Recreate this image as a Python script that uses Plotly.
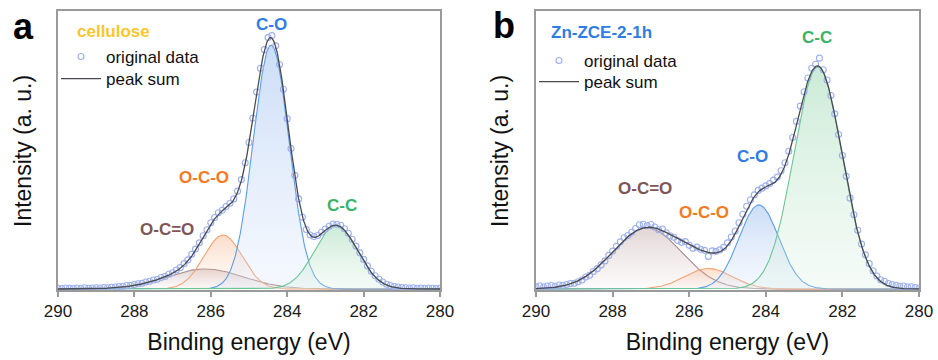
import numpy as np
import plotly.graph_objects as go

# ---------------- data ----------------
# C 1s scans: binding energy grid (eV) and measured intensity (a.u.)
E_START = 290.0
E_STEP = 0.1

cellulose_counts = [
    0.3, 0.2, 0.4, 0.3, 0.2, 0.4, 0.3, 0.5, 0.3, 0.4,
    0.5, 0.4, 0.6, 0.5, 0.7, 0.8, 1.0, 1.1, 1.4, 1.5,
    1.8, 2.1, 2.3, 2.8, 3.1, 3.6, 3.9, 4.6, 5.0, 5.9,
    6.5, 7.6, 8.5, 10.1, 11.6, 13.8, 15.9, 18.4, 21.2, 23.6,
    26.4, 28.5, 30.4, 31.4, 32.9, 34.2, 35.9, 39.0, 43.6, 50.3,
    58.4, 68.1, 78.5, 88.0, 95.4, 100.2, 101.0, 96.9, 89.5, 79.6,
    67.9, 56.0, 45.3, 35.9, 28.6, 23.7, 21.5, 20.9, 21.3, 22.6,
    23.9, 25.0, 25.9, 25.8, 25.4, 24.0, 22.2, 19.8, 17.1, 14.4,
    11.8, 9.2, 7.1, 5.3, 3.9, 2.8, 1.9, 1.4, 1.0, 0.8,
    0.6, 0.5, 0.4, 0.5, 0.3, 0.4, 0.3, 0.4, 0.3, 0.2,
    0.3,
]

zce_counts = [
    0.9, 1.3, 0.8, 1.2, 1.4, 1.1, 1.6, 1.5, 1.8, 2.2,
    2.3, 2.9, 3.6, 4.8, 5.5, 7.0, 8.1, 9.6, 11.2, 13.4,
    15.1, 17.0, 18.8, 20.4, 21.3, 22.6, 24.1, 25.6, 25.8, 25.2,
    25.7, 24.7, 23.6, 23.9, 22.4, 21.2, 20.6, 19.3, 18.6, 18.9,
    17.4, 16.2, 16.7, 15.8, 15.4, 13.0, 15.2, 15.0, 15.6, 16.6,
    18.4, 20.7, 23.1, 26.4, 29.8, 33.0, 35.6, 37.5, 39.3, 40.2,
    41.1, 42.0, 43.4, 44.6, 47.1, 50.3, 54.9, 60.4, 66.8, 72.9,
    78.6, 84.1, 88.0, 89.6, 92.0, 87.4, 83.3, 77.1, 69.8, 61.6,
    53.2, 44.9, 36.2, 29.6, 23.4, 17.9, 13.6, 10.1, 7.3, 5.2,
    3.7, 3.1, 2.2, 1.8, 1.5, 1.1, 1.2, 0.8, 0.9, 0.6,
    0.4,
]

# fitted Gaussian components: name, centre (eV), height, sigma (eV)
cellulose_peaks = ["O-C=O", "O-C-O", "C-O", "C-C"]
cellulose_centres = [286.15, 285.68, 284.42, 282.72]
cellulose_heights = [8.0, 21.5, 97.2, 25.3]
cellulose_sigmas = [1.0, 0.50, 0.47, 0.56]

zce_peaks = ["O-C=O", "O-C-O", "C-O", "C-C"]
zce_centres = [287.10, 285.50, 284.18, 282.64]
zce_heights = [24.3, 8.2, 33.5, 88.5]
zce_sigmas = [0.90, 0.62, 0.52, 0.63]

x_ticks = [290, 288, 286, 284, 282, 280]

# ---------------- styling ----------------
W, H = 938, 360
FONT = "Arial, Liberation Sans, sans-serif"
FRAME = "#9a9a9a"
SUM_COLOR = "#4a4a52"
DATA_COLOR = "#9cb0ee"

peak_style = {
    "O-C=O": dict(line="#a68a8a", text="#7e5656",
                  fill=["rgba(200,175,175,0.06)", "rgba(165,125,125,0.32)"]),
    "O-C-O": dict(line="#f2a271", text="#f27a22",
                  fill=["rgba(250,210,185,0.08)", "rgba(245,165,115,0.38)"]),
    "C-O": dict(line="#5c9de8", text="#2f7de2",
                fill=["rgba(215,228,250,0.25)", "rgba(140,180,238,0.45)"]),
    "C-C": dict(line="#6cc594", text="#38b36a",
                fill=["rgba(215,240,222,0.25)", "rgba(140,210,165,0.45)"]),
}

e_fine = np.linspace(E_START, 280.0, 601)


def gaussian(e, c, h, s):
    return h * np.exp(-((e - c) ** 2) / (2 * s * s))


def px_x(p):
    return p / W


def px_y(p):
    return 1 - p / H


fig = go.Figure()


def add_panel(xa, ya, counts, names, centres, heights, sigmas, leg_data, leg_sum):
    energies = E_START - E_STEP * np.arange(len(counts))
    total = np.zeros_like(e_fine)
    for n, c, h, s in zip(names, centres, heights, sigmas):
        comp = gaussian(e_fine, c, h, s)
        total += comp
        st = peak_style[n]
        fig.add_trace(go.Scatter(
            x=e_fine, y=comp, mode="lines", name=n, showlegend=False,
            line=dict(color=st["line"], width=1.1),
            fill="tozeroy",
            fillgradient=dict(type="vertical",
                              colorscale=[[0, st["fill"][0]], [1, st["fill"][1]]]),
            xaxis=xa, yaxis=ya, hoverinfo="skip"))
    fig.add_trace(go.Scatter(
        x=energies, y=counts, mode="markers", name="original data",
        marker=dict(symbol="circle-open", size=6, color=DATA_COLOR,
                    line=dict(width=1.1, color=DATA_COLOR)),
        xaxis=xa, yaxis=ya, legend=leg_data))
    fig.add_trace(go.Scatter(
        x=e_fine, y=total, mode="lines", name="peak sum",
        line=dict(color=SUM_COLOR, width=1.3),
        xaxis=xa, yaxis=ya, legend=leg_sum))


add_panel("x", "y", cellulose_counts, cellulose_peaks, cellulose_centres,
          cellulose_heights, cellulose_sigmas, "legend", "legend3")
add_panel("x2", "y2", zce_counts, zce_peaks, zce_centres,
          zce_heights, zce_sigmas, "legend2", "legend4")

# component labels (placed in data coordinates of each panel)
labels_a = [("C-O", 284.40, 105.6), ("O-C-O", 286.18, 44.6),
            ("O-C=O", 287.15, 23.9), ("C-C", 282.57, 33.1)]
labels_b = [("C-C", 282.66, 100.4), ("C-O", 284.36, 53.0),
            ("O-C-O", 285.61, 30.3), ("O-C=O", 287.15, 40.2)]

annotations = []
for (txt, ex, iy), xr, yr in [(l, "x", "y") for l in labels_a] + [(l, "x2", "y2") for l in labels_b]:
    annotations.append(dict(text=f"<b>{txt}</b>", x=ex, y=iy, xref=xr, yref=yr,
                            xanchor="center", yanchor="middle", showarrow=False,
                            font=dict(family=FONT, size=17,
                                      color=peak_style[txt]["text"])))

annotations += [
    dict(text="<b>cellulose</b>", x=289.55, y=102.8, xref="x", yref="y",
         xanchor="left", yanchor="middle", showarrow=False,
         font=dict(family=FONT, size=17, color="#fbc62c")),
    dict(text="<b>Zn-ZCE-2-1h</b>", x=289.66, y=102.4, xref="x2", yref="y2",
         xanchor="left", yanchor="middle", showarrow=False,
         font=dict(family=FONT, size=17, color="#2f7de2")),
    dict(text="<b>a</b>", x=px_x(23), y=px_y(27), xref="paper", yref="paper",
         xanchor="center", yanchor="middle", showarrow=False,
         font=dict(family=FONT, size=36, color="black")),
    dict(text="<b>b</b>", x=px_x(504), y=px_y(26), xref="paper", yref="paper",
         xanchor="center", yanchor="middle", showarrow=False,
         font=dict(family=FONT, size=36, color="black")),
    dict(text="Intensity (a. u.)", x=px_x(23), y=px_y(151), xref="paper",
         yref="paper", textangle=-90, xanchor="center", yanchor="middle",
         showarrow=False, font=dict(family=FONT, size=23, color="#111")),
    dict(text="Intensity (a. u.)", x=px_x(500), y=px_y(151), xref="paper",
         yref="paper", textangle=-90, xanchor="center", yanchor="middle",
         showarrow=False, font=dict(family=FONT, size=23, color="#111")),
]

xaxis_common = dict(
    range=[290, 280], tickvals=x_ticks, ticktext=[str(t) for t in x_ticks],
    ticks="outside", ticklen=5, tickwidth=1.5, tickcolor=FRAME,
    showline=True, linecolor=FRAME, linewidth=1.5, mirror=True,
    showgrid=False, zeroline=False, automargin=False,
    tickfont=dict(family=FONT, size=17, color="#1a1a1a"),
    title=dict(text="Binding energy (eV)", font=dict(family=FONT, size=23, color="#111"),
               standoff=14),
)
yaxis_common = dict(
    range=[-0.4, 110.8], showticklabels=False, ticks="",
    showline=True, linecolor=FRAME, linewidth=1.5, mirror=True,
    showgrid=False, zeroline=False, automargin=False,
)

y_dom = [px_y(290), px_y(11)]
legend_common = dict(xanchor="left", yanchor="top", bgcolor="rgba(0,0,0,0)",
                     font=dict(family=FONT, size=17, color="#111"),
                     itemwidth=40, tracegroupgap=0)

fig.update_layout(
    width=W, height=H,
    margin=dict(l=0, r=0, t=0, b=0, autoexpand=False),
    paper_bgcolor="white", plot_bgcolor="white",
    font=dict(family=FONT),
    xaxis=dict(domain=[px_x(58), px_x(440)], anchor="y", **xaxis_common),
    yaxis=dict(domain=y_dom, anchor="x", **yaxis_common),
    xaxis2=dict(domain=[px_x(536), px_x(919)], anchor="y2", **xaxis_common),
    yaxis2=dict(domain=y_dom, anchor="x2", **yaxis_common),
    legend=dict(x=px_x(56), y=px_y(39), **legend_common),
    legend3=dict(x=px_x(56), y=px_y(61), **legend_common),
    legend2=dict(x=px_x(534), y=px_y(43), **legend_common),
    legend4=dict(x=px_x(534), y=px_y(64), **legend_common),
    annotations=annotations,
    showlegend=True,
)

fig.write_html("out.html")
